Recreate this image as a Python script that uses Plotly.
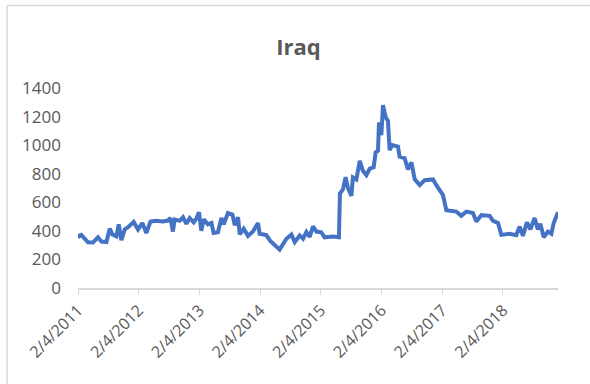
import plotly.graph_objects as go

# Iraq series: observation dates and values
dates = [
    "2011-02-04", "2011-02-10", "2011-02-24", "2011-03-16", "2011-04-05", "2011-05-05",
    "2011-06-04", "2011-06-25", "2011-07-25", "2011-08-14", "2011-08-30", "2011-09-23",
    "2011-10-07", "2011-10-23", "2011-11-12", "2011-12-02", "2012-01-05", "2012-01-31",
    "2012-02-26", "2012-03-21", "2012-04-15", "2012-05-21", "2012-06-29", "2012-07-29",
    "2012-08-13", "2012-08-28", "2012-09-08", "2012-10-08", "2012-10-28", "2012-11-17",
    "2012-12-07", "2012-12-31", "2013-01-16", "2013-02-01", "2013-02-15", "2013-03-01",
    "2013-03-27", "2013-04-17", "2013-04-30", "2013-05-26", "2013-06-16", "2013-06-30",
    "2013-07-25", "2013-08-21", "2013-09-04", "2013-09-24", "2013-10-04", "2013-10-28",
    "2013-11-23", "2013-12-23", "2014-01-22", "2014-02-01", "2014-03-13", "2014-04-06",
    "2014-05-02", "2014-06-01", "2014-06-18", "2014-07-12", "2014-08-11", "2014-08-31",
    "2014-09-30", "2014-10-20", "2014-11-09", "2014-11-29", "2014-12-19", "2015-01-08",
    "2015-02-07", "2015-02-27", "2015-04-18", "2015-05-24", "2015-05-30", "2015-06-17",
    "2015-07-03", "2015-07-17", "2015-08-07", "2015-08-16", "2015-09-06", "2015-09-26",
    "2015-10-15", "2015-11-05", "2015-11-25", "2015-12-19", "2015-12-31", "2016-01-14",
    "2016-01-20", "2016-02-03", "2016-02-13", "2016-02-29", "2016-03-14", "2016-03-24",
    "2016-04-09", "2016-05-13", "2016-05-23", "2016-06-22", "2016-07-12", "2016-08-02",
    "2016-08-22", "2016-09-21", "2016-10-21", "2016-12-10", "2016-12-30", "2017-02-08",
    "2017-02-28", "2017-04-29", "2017-05-29", "2017-06-29", "2017-08-07", "2017-08-28",
    "2017-09-27", "2017-11-16", "2017-12-06", "2018-01-05", "2018-01-25", "2018-03-16",
    "2018-04-25", "2018-05-15", "2018-06-04", "2018-06-28", "2018-07-19", "2018-08-13",
    "2018-09-02", "2018-09-17", "2018-10-07", "2018-11-01", "2018-11-22", "2018-12-06",
    "2019-01-01",
]
values = [
    350, 365, 372, 345, 320, 318,
    355, 325, 322, 415, 375, 362,
    445, 335, 410, 425, 462, 410,
    455, 385, 465, 470, 465, 472,
    490, 395, 480, 470, 495, 450,
    490, 460, 485, 530, 400, 480,
    445, 455, 385, 390, 490, 445,
    525, 515, 440, 495, 375, 415,
    365, 395, 455, 380, 370, 330,
    300, 268, 300, 345, 375, 322,
    368, 345, 392, 358, 432, 395,
    390, 355, 360, 355, 662, 690,
    775, 700, 645, 775, 760, 890,
    820, 790, 835, 845, 950, 960,
    1160, 1070, 1280, 1195, 1170, 965,
    1000, 990, 920, 910, 830, 880,
    760, 720, 755, 760, 720, 650,
    545, 535, 505, 535, 525, 465,
    510, 505, 470, 455, 372, 380,
    370, 430, 365, 460, 410, 490,
    410, 450, 355, 395, 380, 455,
    530,
]

# Category axis labels, one per year
tick_dates = ["2011-02-04", "2012-02-04", "2013-02-04", "2014-02-04",
              "2015-02-04", "2016-02-04", "2017-02-04", "2018-02-04"]
tick_labels = ["2/4/2011", "2/4/2012", "2/4/2013", "2/4/2014",
               "2/4/2015", "2/4/2016", "2/4/2017", "2/4/2018"]
y_ticks = [0, 200, 400, 600, 800, 1000, 1200, 1400]

W, H = 590, 384
ML, MR, MT, MB = 78, 32, 88, 96
plot_w = W - ML - MR
plot_h = H - MT - MB

fig = go.Figure()
fig.add_trace(go.Scatter(
    x=dates, y=values, mode="lines",
    line=dict(color="#4472C4", width=4),
    hoverinfo="x+y", showlegend=False,
))

grey_text = "#595959"
fig.update_layout(
    width=W, height=H,
    margin=dict(l=ML, r=MR, t=MT, b=MB, pad=0),
    paper_bgcolor="white", plot_bgcolor="white",
    font=dict(family="Open Sans", color=grey_text, size=16),
    title=dict(text="<b>Iraq</b>", x=298.5 / W, xref="container", xanchor="center",
               y=1 - 47 / H, yref="container", yanchor="middle",
               font=dict(size=22, color=grey_text, family="Open Sans")),
    xaxis=dict(
        type="date", range=[dates[0], dates[-1]],
        tickmode="array", tickvals=tick_dates, ticktext=tick_labels,
        tickangle=-45, showgrid=False, zeroline=False,
        showline=True, linecolor="#d9d9d9", linewidth=1.5,
        ticks="outside", ticklen=5, tickcolor="#d9d9d9", tickwidth=1,
        tickfont=dict(size=16, color=grey_text),
    ),
    yaxis=dict(
        range=[0, 1400], tickmode="array", tickvals=y_ticks,
        showgrid=False, zeroline=False, showline=False, ticks="",
        ticklabelstandoff=16,
        tickfont=dict(size=17, color=grey_text),
    ),
)

# Chart-area outline (top and left edges)
x_left = (7 - ML) / plot_w
y_top = (H - MB - 5.5) / plot_h
y_bottom = (H - MB - H) / plot_h
fig.add_shape(type="line", xref="paper", yref="paper",
              x0=x_left, x1=(W - ML) / plot_w, y0=y_top, y1=y_top,
              line=dict(color="#d9d9d9", width=1.5))
fig.add_shape(type="line", xref="paper", yref="paper",
              x0=x_left, x1=x_left, y0=y_bottom, y1=y_top,
              line=dict(color="#d9d9d9", width=1.5))

fig.write_html("out.html")
